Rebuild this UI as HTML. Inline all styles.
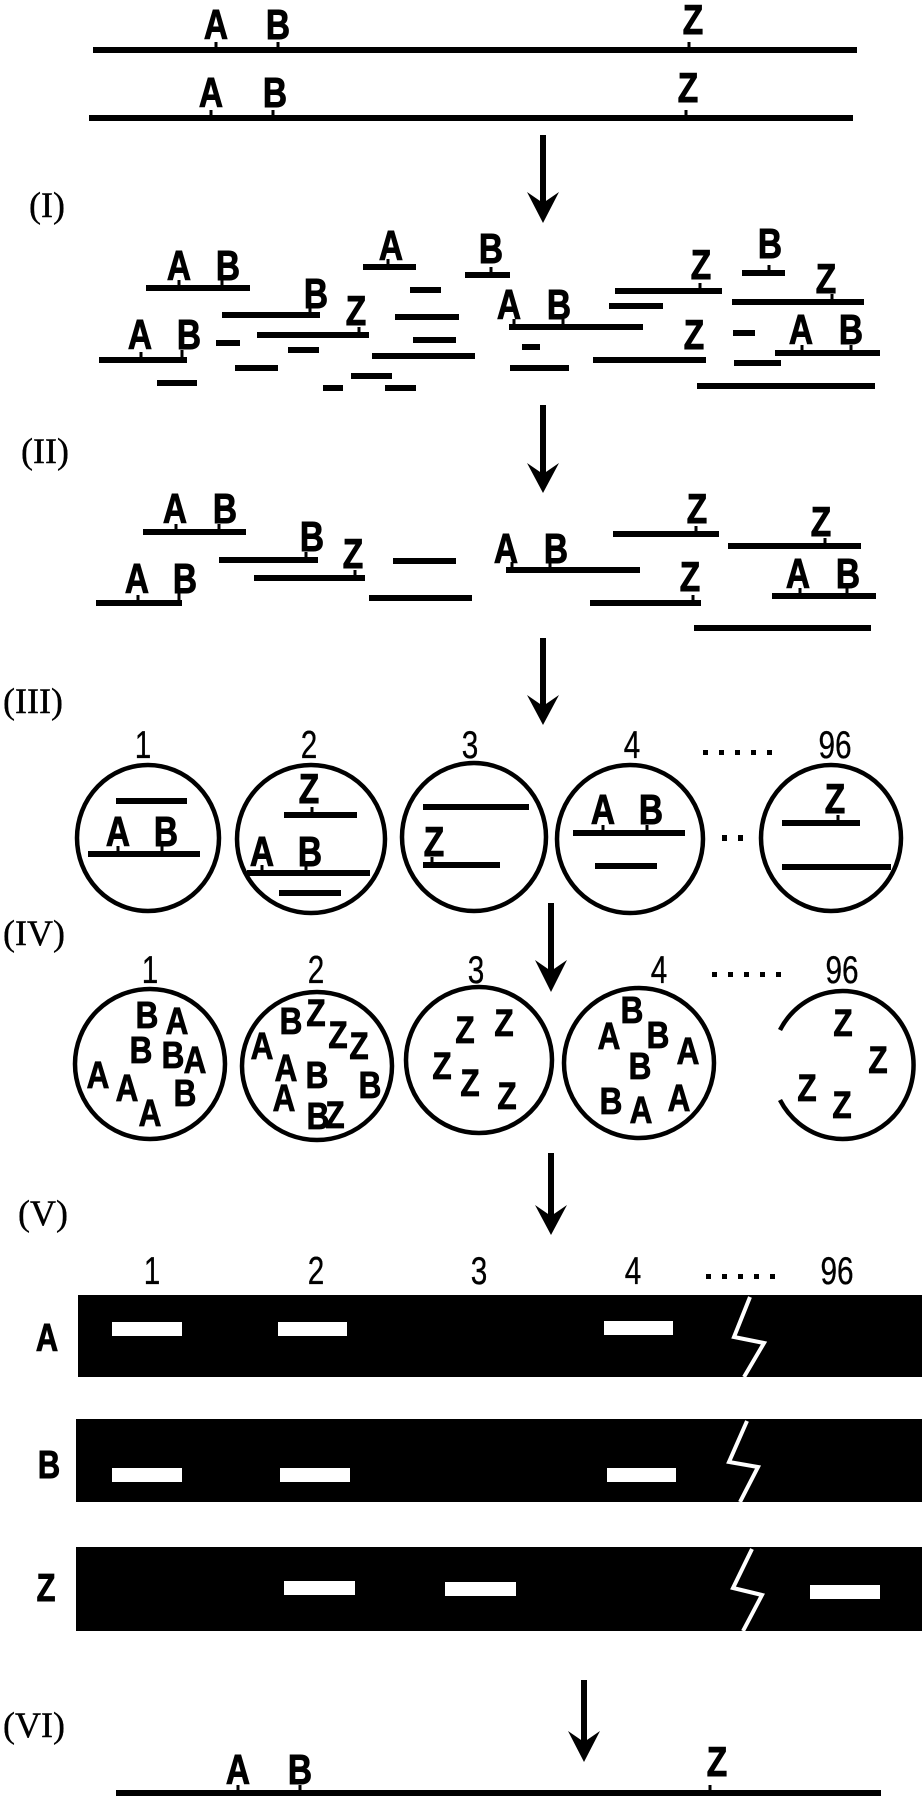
<!DOCTYPE html>
<html><head><meta charset="utf-8"><style>
html,body{margin:0;padding:0;background:#fff;}
svg{display:block;}
.L text,.C text,.N text,.V{transform-box:fill-box;transform-origin:center;}
.L{font-family:"Liberation Sans",sans-serif;font-weight:bold;font-size:38px;text-anchor:middle;fill:#000;stroke:#000;stroke-width:0.9px;}
.L text{transform:scale(0.88,1.1);}
.C{font-family:"Liberation Sans",sans-serif;font-weight:bold;font-size:35px;text-anchor:middle;fill:#000;stroke:#000;stroke-width:0.8px;}
.C text{transform:scale(0.9,1.08);}
.N{font-family:"Liberation Sans",sans-serif;font-size:35px;text-anchor:middle;fill:#000;stroke:#000;stroke-width:0.3px;}
.N text{transform:scale(0.85,1.1);}
.R{font-family:"Liberation Serif",serif;font-size:36px;fill:#000;stroke:#000;stroke-width:0.4px;}
.V{font-family:"Liberation Sans",sans-serif;font-weight:bold;font-size:35px;text-anchor:middle;fill:#000;stroke:#000;stroke-width:0.9px;transform:scale(0.88,1.1);}
</style></head><body>
<svg width="922" height="1800" viewBox="0 0 922 1800" xmlns="http://www.w3.org/2000/svg">
<rect width="922" height="1800" fill="#fff"/>

<!-- bars / fragments -->
<path stroke="#000" stroke-width="6" fill="none" d="
M93 50H857 M89 118H853
M146 288H250 M363 267H416 M465 275H510 M410 290H441 M222 315H320 M257 335H369 M395 317H459 M99 360H187 M216 343H240 M288 350H319 M413 340H456 M372 356H475 M235 368H278 M157 383H197 M351 376H392 M323 388H343 M385 388H416 M509 327H643 M522 347H540 M510 368H569 M615 291H722 M609 306H663 M593 360H706 M742 273H785 M732 302H864 M733 333H755 M775 353H880 M734 363H781 M697 386H875
M143 532H246 M219 560H318 M254 578H365 M393 561H456 M96 603H182 M369 598H472 M506 570H640 M613 534H719 M728 546H861 M590 603H701 M772 596H876 M694 628H871
M116 801H187 M88 854H200 M284 815H357 M247 873H370 M279 893H341 M423 807H529 M423 865H500 M573 833H685 M595 866H657 M782 823H860 M782 867H891
M116 1793H881"/>

<!-- ticks -->
<path stroke="#000" stroke-width="3" fill="none" d="
M216 48V42 M278 48V42 M689 48V42
M211 116V110 M273 116V110 M686 116V110
M179 286V280 M222 286V280 M388 265V259 M491 273V267 M310 313V307 M359 333V327 M141 358V352 M182 358V350 M514 325V319 M563 325V319 M700 289V283 M769 271V265 M832 300V294 M802 351V345 M851 351V345
M176 530V524 M219 530V524 M306 558V552 M355 576V570 M138 601V595 M179 601V593 M512 568V562 M550 568V562 M696 532V526 M825 544V538 M693 601V595 M800 594V588 M847 594V588
M118 852V846 M162 852V846 M312 813V807 M262 871V865 M306 871V865 M432 863V857 M603 831V825 M647 831V825 M838 821V815
M238 1791V1785 M300 1791V1785 M710 1791V1785"/>

<!-- fragment letters -->
<g class="L">
<text x="216" y="38">A</text><text x="278" y="38">B</text><text x="693" y="33">Z</text>
<text x="211" y="106">A</text><text x="275" y="106">B</text><text x="688" y="101">Z</text>

<text x="179" y="279">A</text><text x="228" y="279">B</text>
<text x="391" y="259">A</text><text x="491" y="262">B</text>
<text x="316" y="307">B</text><text x="356" y="324">Z</text>
<text x="140" y="348">A</text><text x="189" y="348">B</text>
<text x="509" y="318">A</text><text x="559" y="318">B</text>
<text x="701" y="278">Z</text><text x="694" y="348">Z</text>
<text x="770" y="257">B</text><text x="826" y="292">Z</text>
<text x="801" y="343">A</text><text x="851" y="343">B</text>

<text x="175" y="522">A</text><text x="225" y="522">B</text>
<text x="312" y="550">B</text><text x="353" y="567">Z</text>
<text x="137" y="592">A</text><text x="185" y="592">B</text>
<text x="506" y="562">A</text><text x="556" y="562">B</text>
<text x="697" y="522">Z</text><text x="821" y="535">Z</text>
<text x="690" y="590">Z</text>
<text x="798" y="587">A</text><text x="848" y="587">B</text>

<text x="118" y="845">A</text><text x="166" y="845">B</text>
<text x="309" y="802">Z</text><text x="262" y="865">A</text><text x="310" y="865">B</text>
<text x="434" y="855">Z</text>
<text x="603" y="823">A</text><text x="651" y="823">B</text>
<text x="835" y="812">Z</text>

<text x="238" y="1783">A</text><text x="300" y="1783">B</text><text x="717" y="1775">Z</text>
</g>

<!-- arrows -->
<g fill="#000">
<rect x="540" y="135" width="6" height="69"/><path d="M527 192L543 223L559 192L543 203Z"/>
<rect x="540" y="405" width="6" height="69"/><path d="M527 463L543 493L559 463L543 474Z"/>
<rect x="540" y="638" width="6" height="68"/><path d="M527 695L543 725L559 695L543 706Z"/>
<rect x="548" y="903" width="6" height="68"/><path d="M535 960L551 992L567 960L551 971Z"/>
<rect x="548" y="1153" width="6" height="63"/><path d="M535 1205L551 1235L567 1205L551 1216Z"/>
<rect x="581" y="1680" width="6" height="62"/><path d="M568 1731L584 1762L600 1731L584 1742Z"/>
</g>

<!-- roman labels -->
<text class="R" x="29" y="217">(I)</text>
<text class="R" x="21" y="463">(II)</text>
<text class="R" x="3" y="713">(III)</text>
<text class="R" x="3" y="945">(IV)</text>
<text class="R" x="18" y="1225">(V)</text>
<text class="R" x="3" y="1737">(VI)</text>

<!-- circles -->
<g stroke="#000" stroke-width="4.5" fill="none">
<ellipse cx="148" cy="838" rx="71" ry="73"/>
<ellipse cx="311" cy="839" rx="74" ry="74"/>
<ellipse cx="474" cy="837" rx="72" ry="74"/>
<ellipse cx="630" cy="839" rx="73" ry="74"/>
<ellipse cx="831" cy="838" rx="70" ry="73"/>
<ellipse cx="150" cy="1064" rx="75" ry="75"/>
<ellipse cx="317" cy="1066" rx="75" ry="74"/>
<ellipse cx="479" cy="1060" rx="73" ry="73"/>
<ellipse cx="639" cy="1063" rx="75" ry="75"/>
<path d="M780 1030 A71 74 0 1 1 780 1100"/>
</g>

<!-- numbers -->
<g class="N">
<text x="143" y="757">1</text><text x="309" y="757">2</text><text x="470" y="757">3</text><text x="632" y="757">4</text><text x="835" y="757">96</text>
<text x="150" y="982">1</text><text x="316" y="982">2</text><text x="476" y="982">3</text><text x="659" y="982">4</text><text x="842" y="982">96</text>
<text x="152" y="1283">1</text><text x="316" y="1283">2</text><text x="479" y="1283">3</text><text x="633" y="1283">4</text><text x="837" y="1283">96</text>
</g>
<g fill="#000">
<rect x="703" y="750" width="5" height="5"/><rect x="719" y="750" width="5" height="5"/><rect x="735" y="750" width="5" height="5"/><rect x="751" y="750" width="5" height="5"/><rect x="767" y="750" width="5" height="5"/>
<rect x="712" y="972" width="5" height="5"/><rect x="728" y="972" width="5" height="5"/><rect x="744" y="972" width="5" height="5"/><rect x="760" y="972" width="5" height="5"/><rect x="776" y="972" width="5" height="5"/>
<rect x="706" y="1274" width="5" height="5"/><rect x="722" y="1274" width="5" height="5"/><rect x="738" y="1274" width="5" height="5"/><rect x="754" y="1274" width="5" height="5"/><rect x="770" y="1274" width="5" height="5"/>
<rect x="722" y="835" width="5" height="6"/><rect x="738" y="835" width="5" height="6"/>
</g>

<!-- (IV) letters -->
<g class="C">
<text x="147" y="1027">B</text><text x="177" y="1033">A</text><text x="141" y="1062">B</text><text x="173" y="1067">B</text><text x="195" y="1072">A</text><text x="98" y="1087">A</text><text x="127" y="1100">A</text><text x="150" y="1125">A</text><text x="185" y="1105">B</text>
<text x="291" y="1033">B</text><text x="316" y="1025">Z</text><text x="338" y="1047">Z</text><text x="359" y="1058">Z</text><text x="262" y="1058">A</text><text x="286" y="1080">A</text><text x="317" y="1087">B</text><text x="370" y="1097">B</text><text x="284" y="1110">A</text><text x="318" y="1128">B</text><text x="335" y="1127">Z</text>
<text x="465" y="1042">Z</text><text x="504" y="1035">Z</text><text x="442" y="1078">Z</text><text x="470" y="1095">Z</text><text x="507" y="1108">Z</text>
<text x="609" y="1048">A</text><text x="632" y="1022">B</text><text x="658" y="1047">B</text><text x="688" y="1063">A</text><text x="640" y="1078">B</text><text x="611" y="1113">B</text><text x="641" y="1122">A</text><text x="679" y="1110">A</text>
<text x="843" y="1035">Z</text><text x="878" y="1072">Z</text><text x="807" y="1100">Z</text><text x="842" y="1117">Z</text>
</g>

<!-- (V) blot bars -->
<g fill="#000">
<rect x="78" y="1295" width="844" height="82"/>
<rect x="76" y="1419" width="846" height="83"/>
<rect x="76" y="1547" width="846" height="84"/>
</g>
<g fill="#fff">
<rect x="112" y="1322" width="70" height="14"/><rect x="278" y="1322" width="69" height="14"/><rect x="604" y="1321" width="69" height="14"/>
<rect x="112" y="1468" width="70" height="14"/><rect x="280" y="1468" width="70" height="14"/><rect x="607" y="1468" width="69" height="14"/>
<rect x="284" y="1581" width="71" height="14"/><rect x="445" y="1582" width="71" height="14"/><rect x="810" y="1585" width="70" height="14"/>
</g>
<g stroke="#fff" stroke-width="4" fill="none">
<polyline points="750,1297 734,1337 764,1343 744,1377"/>
<polyline points="747,1421 729,1462 758,1467 740,1502"/>
<polyline points="752,1549 733,1588 762,1595 743,1631"/>
</g>
<text class="V" x="47" y="1350">A</text>
<text class="V" x="49" y="1477">B</text>
<text class="V" x="46" y="1600">Z</text>

</svg>
</body></html>
